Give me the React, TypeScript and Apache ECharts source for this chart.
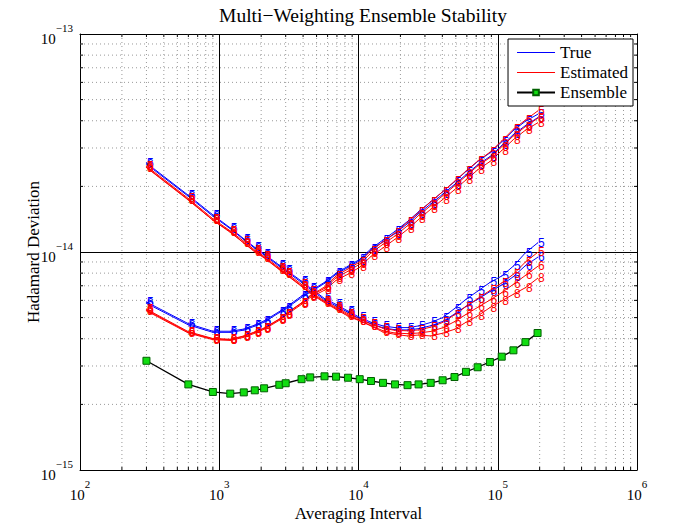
import React, { useEffect, useRef } from 'react';
import * as echarts from 'echarts';

// Averaging intervals
const taus = [300, 600, 900, 1200, 1500, 1800, 2100, 2700, 3000, 3900, 4500, 5700, 6900, 8400, 10200, 12300, 15000, 18300, 22500, 27000, 33000, 40200, 48900, 59100, 71700, 87900, 106800, 129600, 158100, 193200];

// Values in units of 1e-15
const ensemble = [3.17, 2.47, 2.28, 2.24, 2.27, 2.32, 2.37, 2.46, 2.50, 2.61, 2.66, 2.69, 2.68, 2.65, 2.61, 2.56, 2.51, 2.47, 2.45, 2.47, 2.51, 2.58, 2.67, 2.82, 2.96, 3.13, 3.31, 3.54, 3.86, 4.25];

// Family A (falling, then slowly rising)
const trueA5 = [25.6, 18.2, 14.8, 12.9, 11.5, 10.5, 9.8, 8.7, 8.3, 7.35, 6.85, 6.12, 5.75, 5.36, 5.01, 4.76, 4.58, 4.50, 4.50, 4.58, 4.75, 5.00, 5.50, 6.06, 6.61, 7.25, 7.76, 8.62, 9.92, 11.0];
const trueA6 = [25.3, 18.0, 14.6, 12.8, 11.4, 10.4, 9.7, 8.6, 8.2, 7.25, 6.75, 6.04, 5.66, 5.29, 4.94, 4.69, 4.49, 4.40, 4.39, 4.45, 4.59, 4.80, 5.19, 5.63, 6.07, 6.58, 7.06, 7.71, 8.66, 9.45];
const estA5 = [24.8, 17.6, 14.2, 12.5, 11.2, 10.2, 9.55, 8.45, 8.05, 7.10, 6.60, 5.96, 5.58, 5.21, 4.92, 4.67, 4.47, 4.37, 4.35, 4.39, 4.52, 4.75, 5.15, 5.62, 6.11, 6.66, 7.21, 7.91, 9.0, 9.95];
const estA6 = [24.5, 17.4, 14.0, 12.4, 11.0, 10.1, 9.45, 8.35, 7.95, 7.0, 6.5, 5.91, 5.51, 5.14, 4.85, 4.60, 4.35, 4.25, 4.22, 4.25, 4.32, 4.49, 4.79, 5.17, 5.57, 6.02, 6.51, 7.11, 7.81, 8.58];
const estA8 = [24.4, 17.3, 14.0, 12.3, 11.0, 10.0, 9.4, 8.3, 7.9, 6.95, 6.45, 5.86, 5.46, 5.08, 4.83, 4.58, 4.29, 4.19, 4.12, 4.16, 4.12, 4.24, 4.42, 4.76, 5.09, 5.56, 5.97, 6.40, 6.86, 7.57];

// Family B (dip, then steeply rising)
const trueB5 = [5.90, 4.69, 4.33, 4.33, 4.43, 4.62, 4.83, 5.33, 5.56, 6.28, 6.61, 7.26, 8.0, 8.6, 9.25, 10.35, 11.35, 12.45, 13.8, 15.3, 17.0, 18.9, 21.0, 23.4, 26.0, 28.5, 32.0, 36.1, 39.8, 42.8];
const trueB6 = [5.82, 4.63, 4.28, 4.28, 4.38, 4.57, 4.77, 5.27, 5.49, 6.19, 6.54, 7.18, 7.90, 8.50, 9.13, 10.2, 11.15, 12.15, 13.5, 15.0, 16.6, 18.4, 20.4, 22.6, 25.1, 27.4, 30.8, 34.6, 38.0, 41.3];
const estB5 = [5.47, 4.31, 4.01, 3.98, 4.12, 4.30, 4.48, 4.93, 5.20, 5.85, 6.31, 6.91, 7.76, 8.36, 9.0, 10.15, 11.15, 12.25, 13.7, 15.2, 17.0, 18.9, 21.1, 23.5, 26.1, 28.7, 32.3, 36.6, 40.3, 44.3];
const estB6 = [5.42, 4.28, 3.99, 3.96, 4.10, 4.28, 4.46, 4.91, 5.18, 5.82, 6.28, 6.81, 7.61, 8.16, 8.80, 9.90, 10.85, 11.85, 13.2, 14.7, 16.3, 18.1, 20.1, 22.3, 24.8, 27.1, 30.4, 34.1, 37.6, 41.0];
const estB8 = [5.37, 4.25, 3.96, 3.93, 4.06, 4.24, 4.42, 4.86, 5.12, 5.75, 6.19, 6.68, 7.41, 7.91, 8.51, 9.55, 10.45, 11.45, 12.7, 14.1, 15.7, 17.4, 19.3, 21.4, 23.8, 26.0, 29.2, 32.8, 36.2, 39.1];

const xMinorTicks = [200, 300, 400, 500, 600, 700, 800, 900, 2000, 3000, 4000, 5000, 6000, 7000, 8000, 9000, 20000, 30000, 40000, 50000, 60000, 70000, 80000, 90000, 200000, 300000, 400000, 500000, 600000, 700000, 800000, 900000];
const yMinorTicks = [2e-15, 3e-15, 4e-15, 5e-15, 6e-15, 7e-15, 8e-15, 9e-15, 2e-14, 3e-14, 4e-14, 5e-14, 6e-14, 7e-14, 8e-14, 9e-14];

const X_MIN = 1e2, X_MAX = 1e6, Y_MIN = 1e-15, Y_MAX = 1e-13;
const SERIF = 'Liberation Serif';
const BLUE = '#0000ff';
const RED = '#ff0000';

const familyLines = [
  { name: 'True', values: trueA5, digit: '5', color: BLUE },
  { name: 'True', values: trueA6, digit: '6', color: BLUE },
  { name: 'True', values: trueB5, digit: '5', color: BLUE },
  { name: 'True', values: trueB6, digit: '6', color: BLUE },
  { name: 'Estimated', values: estA5, digit: '5', color: RED },
  { name: 'Estimated', values: estA6, digit: '6', color: RED },
  { name: 'Estimated', values: estA8, digit: '8', color: RED },
  { name: 'Estimated', values: estB5, digit: '5', color: RED },
  { name: 'Estimated', values: estB6, digit: '6', color: RED },
  { name: 'Estimated', values: estB8, digit: '8', color: RED },
];

const sup = (s: string) => s.replace('-', '\u2212');

export default function App() {
  const ref = useRef<HTMLDivElement>(null);
  useEffect(() => {
    const chart = echarts.init(ref.current!, null, { renderer: 'svg' });
    const rich = {
      b: { fontSize: 15, fontFamily: SERIF, color: '#000', lineHeight: 24, verticalAlign: 'bottom' },
      s: { fontSize: 11, fontFamily: SERIF, color: '#000', lineHeight: 6, verticalAlign: 'top' },
    };
    const lineSeries = familyLines.map((f) => ({
      type: 'line',
      name: f.name,
      data: taus.map((t, i) => [t, f.values[i] * 1e-15]),
      symbol: 'circle',
      symbolSize: 1,
      showSymbol: true,
      lineStyle: { color: f.color, width: 1 },
      itemStyle: { color: f.color },
      label: {
        show: true,
        formatter: f.digit,
        position: 'right',
        distance: 0,
        color: f.color,
        fontSize: 12,
        fontFamily: 'Liberation Sans',
      },
      emphasis: { disabled: true },
      z: 3,
    }));
    const lineIcon = 'path://M0,0H40V1H0Z';
    const option: any = {
      animation: false,
      backgroundColor: '#fff',
      textStyle: { fontFamily: SERIF },
      title: {
        text: 'Multi\u2212Weighting Ensemble Stability',
        left: 358,
        textAlign: 'center',
        top: 0,
        textStyle: { fontFamily: SERIF, fontSize: 19.5, fontWeight: 'normal', color: '#000' },
      },
      legend: {
        orient: 'vertical',
        right: 46,
        top: 39,
        itemWidth: 38,
        itemHeight: 7,
        itemGap: 3,
        padding: [5, 5, 5, 8],
        backgroundColor: '#fff',
        borderColor: '#000',
        borderWidth: 1,
        textStyle: { fontFamily: SERIF, fontSize: 17, color: '#000' },
        data: [
          { name: 'True', icon: lineIcon },
          { name: 'Estimated', icon: lineIcon },
          { name: 'Ensemble' },
        ],
        selectedMode: false,
      },
      grid: { left: 80, right: 42, top: 34, bottom: 55 },
      xAxis: [
        {
          type: 'log',
          min: X_MIN,
          max: X_MAX,
          logBase: 10,
          name: 'Averaging Interval',
          nameLocation: 'middle',
          nameGap: 35,
          nameMoveOverlap: false,
          nameTextStyle: { fontFamily: SERIF, fontSize: 17, color: '#000' },
          axisLine: { show: true, lineStyle: { color: '#000', width: 1 } },
          axisTick: { show: true, inside: true, length: 5, lineStyle: { color: '#000' } },
          axisLabel: {
            margin: 8,
            formatter: (v: number) => '{b|10}{s|' + Math.round(Math.log10(v)) + '}',
            rich,
          },
          splitLine: { show: true, lineStyle: { color: '#000', width: 1 } },
        },
        {
          type: 'log',
          min: X_MIN,
          max: X_MAX,
          position: 'top',
          axisLine: { show: true, onZero: false, lineStyle: { color: '#000', width: 1 } },
          axisTick: { show: true, inside: true, length: 5, lineStyle: { color: '#000' } },
          axisLabel: { show: false },
          splitLine: { show: false },
        },
      ],
      yAxis: [
        {
          type: 'log',
          min: Y_MIN,
          max: Y_MAX,
          logBase: 10,
          name: 'Hadamard Deviation',
          nameLocation: 'middle',
          nameGap: 38,
          nameMoveOverlap: false,
          nameTextStyle: { fontFamily: SERIF, fontSize: 17, color: '#000' },
          axisLine: { show: true, lineStyle: { color: '#000', width: 1 } },
          axisTick: { show: true, inside: true, length: 5, lineStyle: { color: '#000' } },
          axisLabel: {
            margin: 7,
            formatter: (v: number) => '{b|10}{s|' + sup(String(Math.round(Math.log10(v)))) + '}',
            rich,
          },
          splitLine: { show: true, lineStyle: { color: '#000', width: 1 } },
        },
        {
          type: 'log',
          min: Y_MIN,
          max: Y_MAX,
          position: 'right',
          axisLine: { show: true, onZero: false, lineStyle: { color: '#000', width: 1 } },
          axisTick: { show: true, inside: true, length: 5, lineStyle: { color: '#000' } },
          axisLabel: { show: false },
          splitLine: { show: false },
        },
      ],
      series: [
        {
          type: 'custom',
          silent: true,
          z: 1,
          clip: false,
          data: xMinorTicks.map((v) => [v, Y_MIN]),
          renderItem: (params: any, api: any) => {
            const v = api.value(0);
            const top = api.coord([v, Y_MAX]);
            const bot = api.coord([v, Y_MIN]);
            return {
              type: 'group',
              children: [
                { type: 'line', shape: { x1: top[0], y1: top[1], x2: bot[0], y2: bot[1] }, style: { stroke: '#999', lineWidth: 1, lineDash: [1, 3] } },
                { type: 'line', shape: { x1: bot[0], y1: bot[1], x2: bot[0], y2: bot[1] - 3 }, style: { stroke: '#000', lineWidth: 1 } },
                { type: 'line', shape: { x1: top[0], y1: top[1], x2: top[0], y2: top[1] + 3 }, style: { stroke: '#000', lineWidth: 1 } },
              ],
            };
          },
        },
        {
          type: 'custom',
          silent: true,
          z: 1,
          clip: false,
          data: yMinorTicks.map((v) => [X_MIN, v]),
          renderItem: (params: any, api: any) => {
            const v = api.value(1);
            const l = api.coord([X_MIN, v]);
            const r = api.coord([X_MAX, v]);
            return {
              type: 'group',
              children: [
                { type: 'line', shape: { x1: l[0], y1: l[1], x2: r[0], y2: r[1] }, style: { stroke: '#999', lineWidth: 1, lineDash: [1, 3] } },
                { type: 'line', shape: { x1: l[0], y1: l[1], x2: l[0] + 3, y2: l[1] }, style: { stroke: '#000', lineWidth: 1 } },
                { type: 'line', shape: { x1: r[0], y1: r[1], x2: r[0] - 3, y2: r[1] }, style: { stroke: '#000', lineWidth: 1 } },
              ],
            };
          },
        },
        ...lineSeries,
        {
          type: 'line',
          name: 'Ensemble',
          data: taus.map((t, i) => [t, ensemble[i] * 1e-15]),
          symbol: 'rect',
          symbolSize: 7,
          showSymbol: true,
          lineStyle: { color: '#000', width: 1.3 },
          itemStyle: { color: '#11dd11', borderColor: '#006000', borderWidth: 1 },
          emphasis: { disabled: true },
          z: 5,
        },
      ],
    };
    chart.setOption(option);
    return () => chart.dispose();
  }, []);
  return <div ref={ref} style={{ position: 'fixed', left: 0, top: 0, width: 679, height: 527, background: '#fff' }} />;
}
